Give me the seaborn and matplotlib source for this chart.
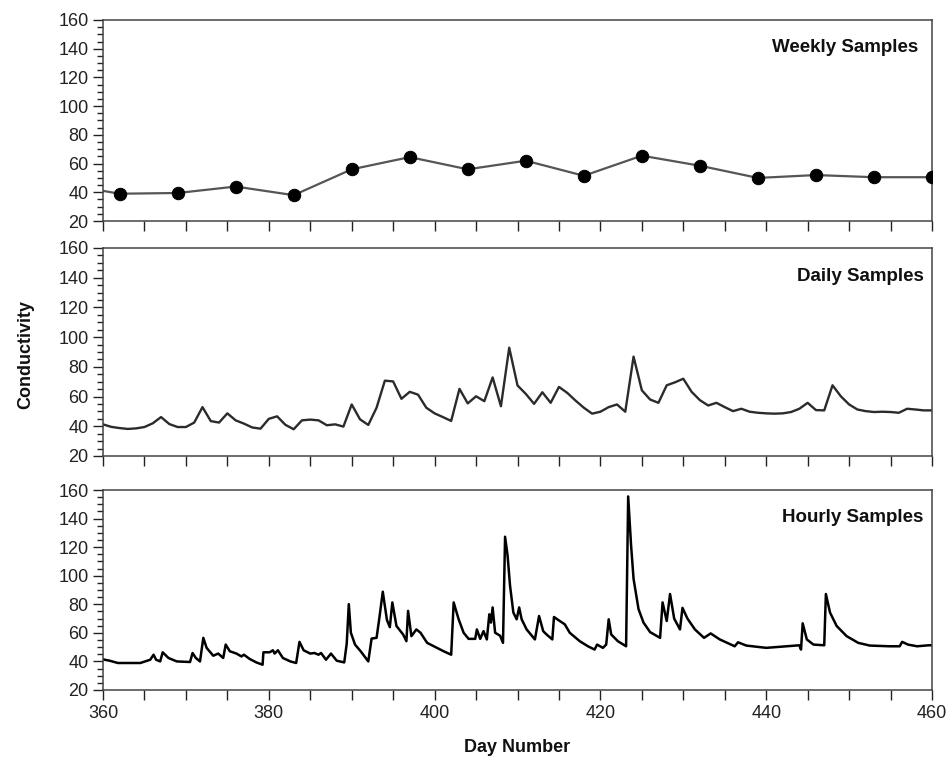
import matplotlib
matplotlib.use("Agg")
import matplotlib.pyplot as plt
from matplotlib.ticker import MultipleLocator
import seaborn as sns

# weekly grab samples (day number, conductivity)
weekly_day = [355, 362, 369, 376, 383, 390, 397, 404, 411, 418, 425, 432, 439, 446, 453, 460]
weekly_val = [46, 39, 39.5, 44, 38, 56, 64.5, 56, 62, 51.5, 65.5, 58.5, 50, 52, 50.5, 50.5]

# daily samples, one per day from 360 to 460
daily_day = list(range(360, 461))
daily_val = [41.3, 39.6, 38.8, 38.2, 38.6, 39.5, 42.0, 46.2, 41.5, 39.5,
             39.5, 42.5, 52.9, 43.5, 42.5, 48.7, 44.0, 41.8, 39.2, 38.4,
             45.0, 46.7, 41.0, 38.0, 44.0, 44.5, 44.0, 40.7, 41.3, 39.8,
             54.7, 44.7, 40.9, 52.5, 70.7, 70.2, 58.5, 63.2, 61.3, 52.5,
             48.7, 46.2, 43.6, 65.2, 55.4, 60.2, 56.9, 72.9, 53.5, 92.9,
             67.5, 61.8, 55.1, 62.9, 55.8, 66.5, 62.5, 57.3, 52.5, 48.5,
             49.8, 52.9, 54.7, 49.8, 86.9, 64.2, 58.0, 55.8, 67.6, 69.6,
             72.0, 63.2, 57.6, 54.0, 55.8, 52.9, 50.2, 51.8, 49.8, 49.1,
             48.7, 48.5, 48.7, 49.6, 51.8, 55.8, 50.9, 50.7, 67.6, 60.2,
             54.7, 51.3, 50.2, 49.6, 49.8, 49.6, 49.1, 51.8, 51.3, 50.7,
             50.7]

hourly_day = [360.0, 360.2, 360.8, 361.8, 364.5, 365.7, 366.1, 366.4, 366.9, 367.2,
              367.9, 368.9, 370.5, 370.8, 371.2, 371.7, 372.1, 372.5, 373.3, 373.9,
              374.5, 374.8, 375.3, 376.1, 376.7, 377.0, 377.7, 378.5, 379.25, 379.35,
              380.1, 380.5, 380.7, 381.1, 381.7, 382.6, 383.3, 383.7, 384.2, 385.0,
              385.5, 386.0, 386.3, 386.9, 387.5, 388.2, 389.1, 389.4, 389.65, 389.9,
              390.4, 391.1, 392.0, 392.4, 393.0, 393.35, 393.75, 394.25, 394.6, 394.9,
              395.4, 396.2, 396.6, 396.8, 397.2, 397.8, 398.3, 399.1, 400.3, 401.1,
              402.0, 402.3, 402.9, 403.5, 404.1, 404.9, 405.1, 405.5, 405.9, 406.3,
              406.6, 406.8, 407.0, 407.3, 407.9, 408.25, 408.5, 408.8, 409.1, 409.5,
              409.9, 410.2, 410.5, 411.1, 412.1, 412.6, 413.1, 413.5, 414.2, 414.4,
              415.1, 415.7, 416.3, 417.5, 418.5, 419.3, 419.6, 420.3, 420.7, 421.0,
              421.3, 422.1, 423.1, 423.35, 423.7, 424.0, 424.6, 425.2, 426.0, 427.2,
              427.5, 428.0, 428.4, 428.9, 429.6, 429.9, 430.5, 431.4, 432.5, 433.3,
              434.4, 436.2, 436.6, 437.6, 440.0, 442.5, 444.0, 444.2, 444.4, 444.9,
              445.7, 447.0, 447.2, 447.7, 448.5, 449.7, 451.1, 452.5, 454.9, 456.1,
              456.4, 457.1, 458.2, 459.6, 460.0]
hourly_val = [41.5, 41.2, 40.5, 38.9, 38.9, 41.2, 44.7, 41.2, 40.0, 46.4,
              42.4, 40.0, 39.6, 45.9, 42.4, 40.0, 56.5, 49.5, 44.0, 45.5,
              42.4, 51.8, 47.1, 45.5, 43.5, 44.7, 41.7, 39.3, 37.7, 46.4,
              46.4, 47.8, 45.5, 47.8, 42.4, 40.0, 38.9, 53.7, 47.8, 45.5,
              45.9, 44.7, 45.9, 41.2, 45.5, 40.5, 39.3, 52.5, 80.1, 60.1,
              51.8, 47.0, 40.0, 56.0, 56.5, 71.0, 88.8, 69.0, 64.0, 81.3,
              64.8, 58.9, 54.2, 75.4, 57.7, 62.4, 60.1, 53.0, 49.5, 47.1,
              44.7, 81.3, 69.5, 60.1, 55.8, 55.8, 62.4, 55.8, 61.2, 55.4,
              73.0, 67.2, 77.8, 60.1, 58.0, 53.0, 127.3, 114.3, 93.0, 74.2,
              69.5, 77.8, 69.5, 62.4, 55.4, 71.8, 61.2, 58.9, 55.4, 71.1,
              68.3, 66.0, 60.1, 54.2, 50.6, 48.3, 51.8, 49.5, 51.8, 69.5,
              58.9, 54.2, 50.6, 155.5, 121.3, 97.8, 76.6, 67.2, 60.5, 56.5,
              81.3, 68.3, 87.2, 70.0, 62.4, 77.5, 70.0, 62.4, 56.5, 59.6,
              55.4, 50.6, 53.4, 51.1, 49.5, 50.6, 51.3, 48.3, 66.7, 55.4,
              51.8, 51.3, 87.2, 74.2, 64.8, 57.7, 53.0, 51.1, 50.6, 50.6,
              53.7, 51.8, 50.6, 51.3, 51.3]

sns.set_theme(style="ticks")
plt.rcParams['font.family'] = ['Liberation Sans', 'DejaVu Sans']

fig = plt.figure(figsize=(9.52, 7.64), dpi=100)
left, width = 103 / 952, 829 / 952
spans = [(20, 221), (248, 456), (490, 690)]
axes = [fig.add_axes([left, 1 - b / 764, width, (b - t) / 764]) for t, b in spans]

# weekly
sns.lineplot(x=weekly_day, y=weekly_val, ax=axes[0], color="#555555", linewidth=1.6)
sns.scatterplot(x=weekly_day, y=weekly_val, ax=axes[0], color="black", s=80,
                edgecolor="black", zorder=3)
# daily
sns.lineplot(x=daily_day, y=daily_val, ax=axes[1], color="#2b2b2b", linewidth=1.7)
# hourly
sns.lineplot(x=hourly_day, y=hourly_val, ax=axes[2], color="black", linewidth=1.8)

titles = ["Weekly Samples", "Daily Samples", "Hourly Samples"]
title_x = [0.983, 0.99, 0.99]
for ax, title, tx in zip(axes, titles, title_x):
    ax.set_xlim(360, 460)
    ax.set_ylim(20, 160)
    ax.yaxis.set_major_locator(MultipleLocator(20))
    ax.yaxis.set_minor_locator(MultipleLocator(5))
    ax.xaxis.set_major_locator(MultipleLocator(20))
    ax.xaxis.set_minor_locator(MultipleLocator(5))
    ax.tick_params(axis="y", which="major", length=7, width=1, labelsize=13, colors="#222222")
    ax.tick_params(axis="y", which="minor", length=4, width=1, colors="#222222")
    ax.tick_params(axis="x", which="both", length=7, width=1, labelsize=13, colors="#222222")
    for sp in ax.spines.values():
        sp.set_visible(True)
        sp.set_linewidth(1.1)
        sp.set_color("#444444")
    ax.set_xlabel("")
    ax.set_ylabel("")
    ax.text(tx, 0.865, title, transform=ax.transAxes, ha="right", va="center",
            fontsize=13.5, fontweight="bold", color="#111111")

for ax in axes[:2]:
    ax.tick_params(axis="x", labelbottom=False)

fig.text(517 / 952, 1 - 748 / 764, "Day Number", ha="center", va="center",
         fontsize=13, fontweight="bold", color="#111111")
fig.text(26 / 952, 1 - 355 / 764, "Conductivity", ha="center", va="center",
         rotation=90, fontsize=13, fontweight="bold", color="#111111")

fig.savefig("out.png", dpi=100)
